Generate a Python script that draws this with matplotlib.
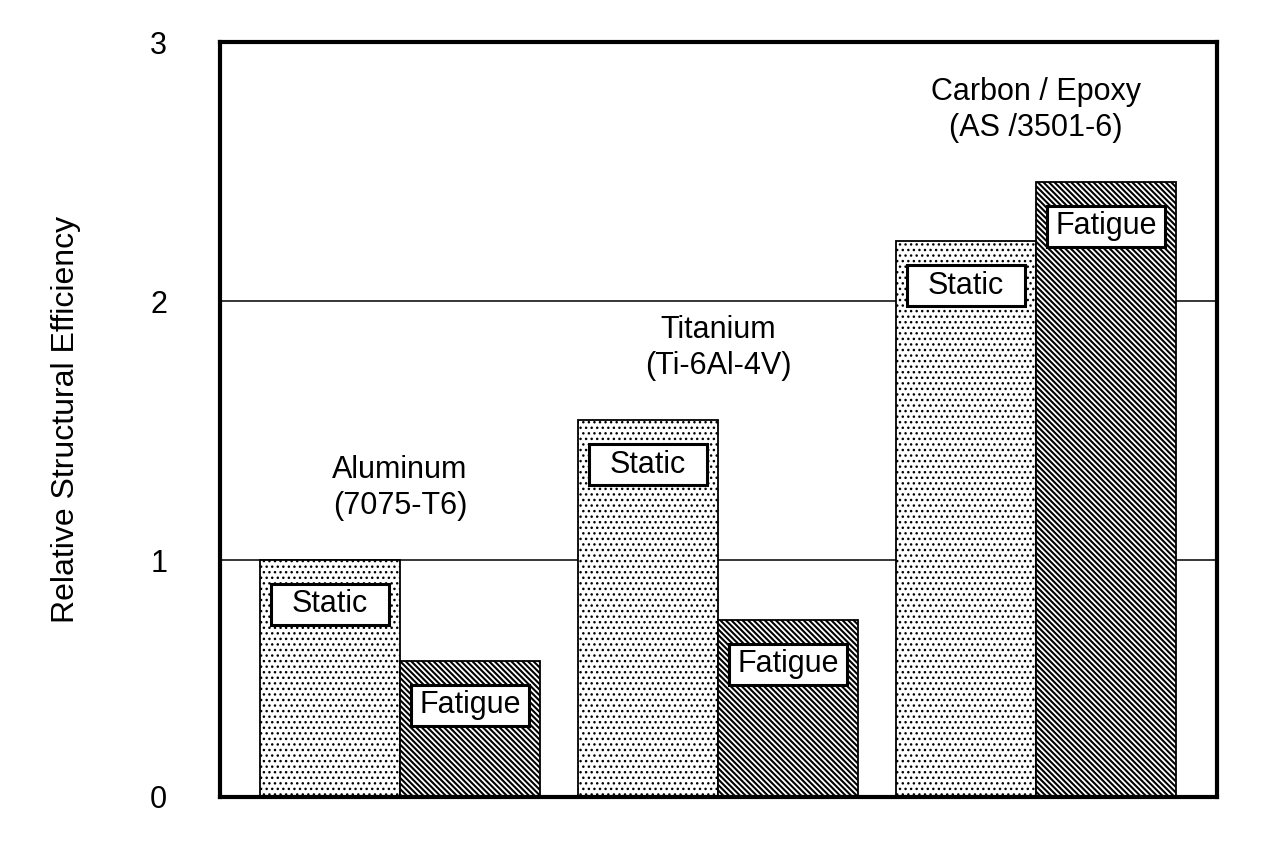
import matplotlib.pyplot as plt
import numpy as np
from matplotlib.patches import Rectangle
from matplotlib.transforms import IdentityTransform

plt.rcParams["font.family"] = ["Liberation Sans", "DejaVu Sans"]

materials = ["Aluminum\n(7075-T6)", "Titanium\n(Ti-6Al-4V)", "Carbon / Epoxy\n(AS /3501-6)"]
static_vals = [1.00, 1.54, 2.23]
fatigue_vals = [0.61, 0.77, 2.46]
series_names = ["Static", "Fatigue"]
y_ticks = [1, 2, 3]
y_labels = ["1", "2", "3"]

Y_BOTTOM = 0.085
WIDTH = 0.44
BOX_W, BOX_H = 118, 41  # label box size in pixels

fig = plt.figure(figsize=(12.86, 8.58), dpi=100)
ax = fig.add_axes([220 / 1286, 1 - 797 / 858, 997 / 1286, 755 / 858])

x = np.arange(len(materials))
ax.set_xlim(-0.566, 2.569)
ax.set_ylim(Y_BOTTOM, 3)

for yv in [1, 2]:
    ax.axhline(yv, color="black", lw=1.1, zorder=0)

plt.rcParams["hatch.linewidth"] = 1.0
b1 = ax.bar(x - WIDTH / 2, static_vals, WIDTH, color="white", edgecolor="black",
            hatch="...", lw=1.3, zorder=2)
plt.rcParams["hatch.linewidth"] = 1.5
b2 = ax.bar(x + WIDTH / 2, fatigue_vals, WIDTH, color="white", edgecolor="black",
            hatch="\\\\\\\\\\\\", lw=1.3, zorder=2)

texts = []
for bars, name in zip([b1, b2], series_names):
    for r in bars:
        t = ax.annotate(name, (r.get_x() + r.get_width() / 2, r.get_height()),
                        xytext=(0, -32), textcoords="offset points", ha="center", va="center",
                        fontsize=22, zorder=4)
        texts.append(t)

for i, label in enumerate(materials):
    top = max(static_vals[i], fatigue_vals[i])
    ax.annotate(label, (x[i], top), xytext=(0, 52), textcoords="offset points",
                ha="center", va="center", fontsize=22, linespacing=1.25)

ax.set_xticks([])
ax.set_yticks([Y_BOTTOM] + y_ticks)
ax.set_yticklabels(["0"] + y_labels, fontsize=22)
ax.tick_params(axis="y", length=0, pad=38)
ax.set_ylabel("Relative Structural Efficiency", fontsize=23, labelpad=50)
for s in ax.spines.values():
    s.set_linewidth(3.0)

# white boxes behind the Static / Fatigue labels, same size for all
fig.canvas.draw()
renderer = fig.canvas.get_renderer()
for t in texts:
    bb = t.get_window_extent(renderer)
    cx, cy = (bb.x0 + bb.x1) / 2, (bb.y0 + bb.y1) / 2
    rect = Rectangle((cx - BOX_W / 2, cy - BOX_H / 2), BOX_W, BOX_H, transform=IdentityTransform(),
                     fc="white", ec="black", lw=2.2, zorder=3)
    ax.add_artist(rect)

plt.savefig("out.png", dpi=100)
plt.close()
